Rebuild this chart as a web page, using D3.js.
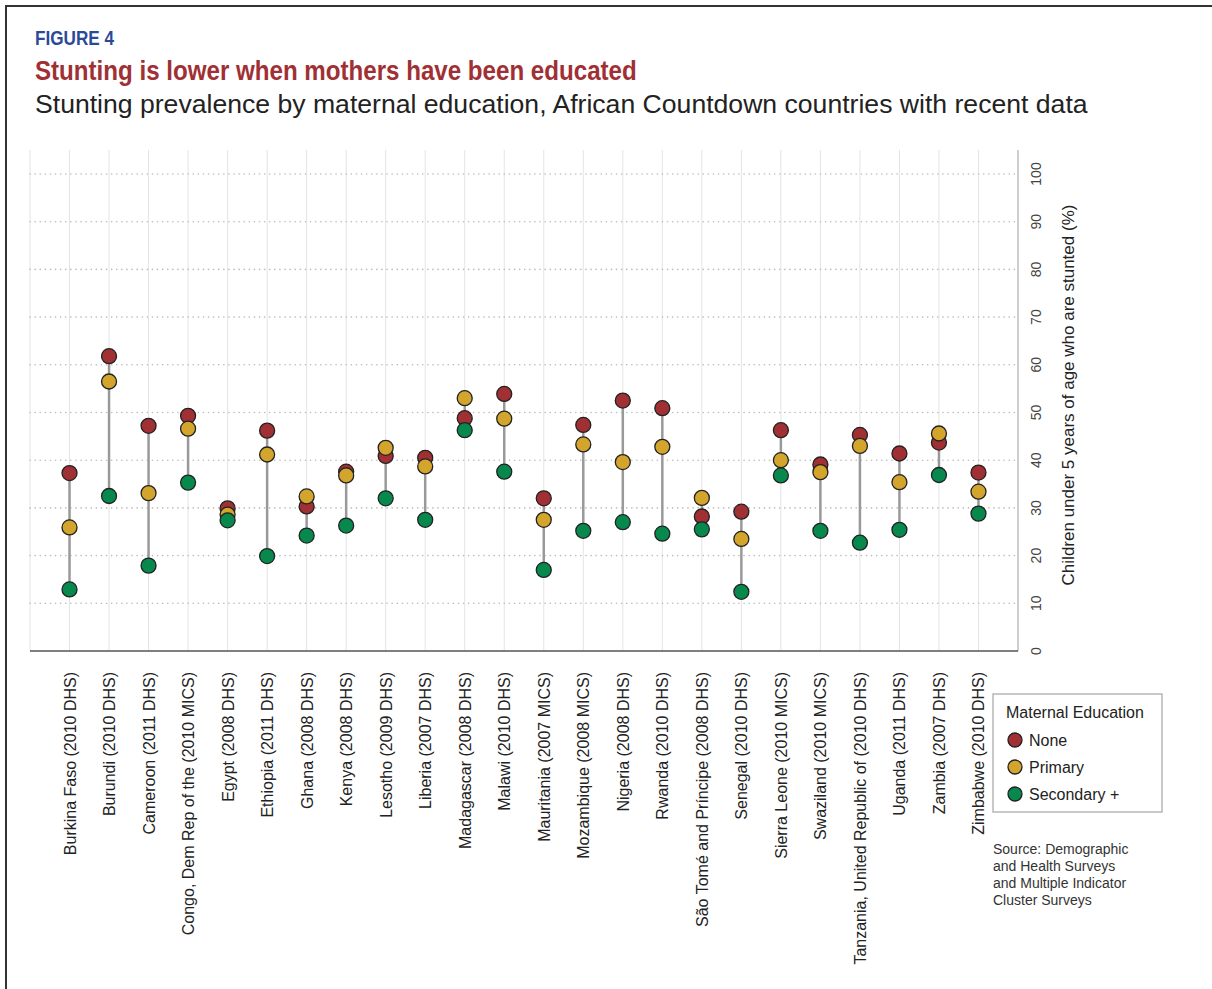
<!DOCTYPE html>
<html lang="en">
<head>
<meta charset="UTF-8">
<script src="https://cdn.jsdelivr.net/npm/d3@7"></script>
<title>Figure 4</title>
<style>
  body { margin: 0; background: #fff; font-family: "Liberation Sans", Arial, sans-serif; }
  svg text { fill: #222; }
</style>
</head>
<body>
<div id="chart"></div>
<script>
// data (% of children under 5 who are stunted)
var countries = ["Burkina Faso (2010 DHS)", "Burundi (2010 DHS)", "Cameroon (2011 DHS)",
  "Congo, Dem Rep of the (2010 MICS)", "Egypt (2008 DHS)", "Ethiopia (2011 DHS)", "Ghana (2008 DHS)",
  "Kenya (2008 DHS)", "Lesotho (2009 DHS)", "Liberia (2007 DHS)", "Madagascar (2008 DHS)",
  "Malawi (2010 DHS)", "Mauritania (2007 MICS)", "Mozambique (2008 MICS)", "Nigeria (2008 DHS)",
  "Rwanda (2010 DHS)", "São Tomé and Príncipe (2008 DHS)", "Senegal (2010 DHS)",
  "Sierra Leone (2010 MICS)", "Swaziland (2010 MICS)", "Tanzania, United Republic of (2010 DHS)",
  "Uganda (2011 DHS)", "Zambia (2007 DHS)", "Zimbabwe (2010 DHS)"];
var none      = [37.3, 61.8, 47.2, 49.3, 29.9, 46.2, 30.3, 37.6, 40.9, 40.5, 48.8, 53.9, 32.0, 47.4, 52.5, 50.9, 28.2, 29.2, 46.3, 39.1, 45.3, 41.4, 43.7, 37.4];
var primary   = [25.9, 56.5, 33.1, 46.6, 28.6, 41.2, 32.4, 36.8, 42.6, 38.7, 53.0, 48.7, 27.5, 43.3, 39.6, 42.8, 32.1, 23.5, 40.0, 37.5, 43.0, 35.4, 45.6, 33.4];
var secondary = [12.9, 32.5, 17.9, 35.3, 27.4, 19.9, 24.2, 26.3, 32.0, 27.5, 46.3, 37.6, 17.0, 25.2, 27.0, 24.6, 25.5, 12.4, 36.8, 25.2, 22.7, 25.4, 36.9, 28.8];
var seriesNames = ["None", "Primary", "Secondary +"];
var seriesColors = ["#a03034", "#d4a52d", "#07894e"];
var yTicks = [0, 10, 20, 30, 40, 50, 60, 70, 80, 90, 100];

var width = 1212, height = 989;
var plotLeft = 30, plotRight = 1018, plotTop = 150, plotBottom = 651;

var svg = d3.select('#chart').append('svg')
    .attr('width', width)
    .attr('height', height);

// frame
svg.append('path')
    .attr('d', 'M6,' + height + 'V6H' + width)
    .attr('fill', 'none')
    .attr('stroke', '#333')
    .attr('stroke-width', 2);

// titles - condensed look made by squeezing a normal bold face to the wanted width
function squeeze(sel, x0, wanted) {
    var w = sel.node().getComputedTextLength();
    sel.attr('transform', 'translate(' + x0 + ',0) scale(' + (wanted / w) + ',1)');
}
var fig = svg.append('text').attr('y', 45)
    .style('font-weight', 'bold').style('font-size', '20px')
    .style('fill', '#2a4a98').text('FIGURE 4');
squeeze(fig, 35, 79);
var ttl = svg.append('text').attr('y', 80)
    .style('font-weight', 'bold').style('font-size', '27px')
    .style('fill', '#a03034').text('Stunting is lower when mothers have been educated');
squeeze(ttl, 35, 602);
svg.append('text').attr('x', 35).attr('y', 113)
    .style('font-size', '26.6px').style('fill', '#222')
    .text('Stunting prevalence by maternal education, African Countdown countries with recent data');

var x = d3.scalePoint()
    .domain(countries)
    .range([plotLeft, plotRight])
    .padding(1);

var y = d3.scaleLinear()
    .domain([0, 100])
    .range([plotBottom, 174]);

// vertical grid
svg.append('g').selectAll('line')
    .data(countries)
    .enter().append('line')
    .attr('x1', function(d) { return x(d); })
    .attr('x2', function(d) { return x(d); })
    .attr('y1', plotTop).attr('y2', plotBottom)
    .attr('stroke', '#e4e4e4').attr('stroke-width', 1);
svg.append('line')
    .attr('x1', plotLeft).attr('x2', plotLeft).attr('y1', plotTop).attr('y2', plotBottom)
    .attr('stroke', '#e4e4e4');

// horizontal dotted grid
svg.append('g').selectAll('line')
    .data(yTicks.filter(function(d) { return d > 0; }))
    .enter().append('line')
    .attr('x1', plotLeft).attr('x2', plotRight - 3)
    .attr('y1', function(d) { return y(d); })
    .attr('y2', function(d) { return y(d); })
    .attr('stroke', '#bdbdbd')
    .attr('stroke-width', 1.6)
    .attr('stroke-linecap', 'round')
    .attr('stroke-dasharray', '0.1,5');

// axes lines
svg.append('line')
    .attr('x1', plotRight).attr('x2', plotRight).attr('y1', plotTop).attr('y2', plotBottom)
    .attr('stroke', '#cfcfcf').attr('stroke-width', 2);
svg.append('line')
    .attr('x1', plotLeft).attr('x2', plotRight).attr('y1', plotBottom).attr('y2', plotBottom)
    .attr('stroke', '#555').attr('stroke-width', 1.5);

// y tick labels (rotated)
svg.append('g').selectAll('text')
    .data(yTicks)
    .enter().append('text')
    .attr('transform', function(d) { return 'translate(1041,' + y(d) + ') rotate(-90)'; })
    .attr('text-anchor', 'middle')
    .style('font-size', '14px').style('fill', '#444')
    .text(function(d) { return d; });

svg.append('text')
    .attr('transform', 'translate(1074,395) rotate(-90)')
    .attr('text-anchor', 'middle')
    .style('font-size', '17px')
    .text('Children under 5 years of age who are stunted (%)');

// category labels
svg.append('g').selectAll('text')
    .data(countries)
    .enter().append('text')
    .attr('transform', function(d) { return 'translate(' + (x(d) + 6) + ',672) rotate(-90)'; })
    .attr('text-anchor', 'end')
    .style('font-size', '16px')
    .text(function(d) { return d; });

// connectors
var rows = countries.map(function(c, i) {
    return { country: c, vals: [none[i], primary[i], secondary[i]] };
});
svg.append('g').selectAll('line')
    .data(rows)
    .enter().append('line')
    .attr('x1', function(d) { return x(d.country); })
    .attr('x2', function(d) { return x(d.country); })
    .attr('y1', function(d) { return y(d3.max(d.vals)); })
    .attr('y2', function(d) { return y(d3.min(d.vals)); })
    .attr('stroke', '#999').attr('stroke-width', 2.5);

// dots
var dots = svg.append('g');
rows.forEach(function(row) {
    dots.selectAll(null)
        .data(row.vals)
        .enter().append('circle')
        .attr('cx', x(row.country))
        .attr('cy', function(d) { return y(d); })
        .attr('r', 7.5)
        .attr('fill', function(d, i) { return seriesColors[i]; })
        .attr('stroke', '#222')
        .attr('stroke-width', 1.3);
});

// legend
var lg = svg.append('g').attr('transform', 'translate(993,694)');
lg.append('rect').attr('width', 169).attr('height', 118)
    .attr('fill', '#fff').attr('stroke', '#a5a5a5').attr('stroke-width', 1.2);
lg.append('text').attr('x', 13).attr('y', 24).style('font-size', '16px').text('Maternal Education');
var item = lg.selectAll('.item')
    .data(seriesNames)
    .enter().append('g')
    .attr('transform', function(d, i) { return 'translate(0,' + (46 + i * 27) + ')'; });
item.append('circle').attr('cx', 22).attr('r', 7)
    .attr('fill', function(d, i) { return seriesColors[i]; })
    .attr('stroke', '#222').attr('stroke-width', 1.3);
item.append('text').attr('x', 36).attr('y', 6).style('font-size', '16px')
    .text(function(d) { return d; });

// source
var src = ['Source: Demographic', 'and Health Surveys', 'and Multiple Indicator', 'Cluster Surveys'];
svg.append('g').selectAll('text')
    .data(src)
    .enter().append('text')
    .attr('x', 993)
    .attr('y', function(d, i) { return 854 + i * 17; })
    .style('font-size', '14px').style('fill', '#333')
    .text(function(d) { return d; });
</script>
</body>
</html>
